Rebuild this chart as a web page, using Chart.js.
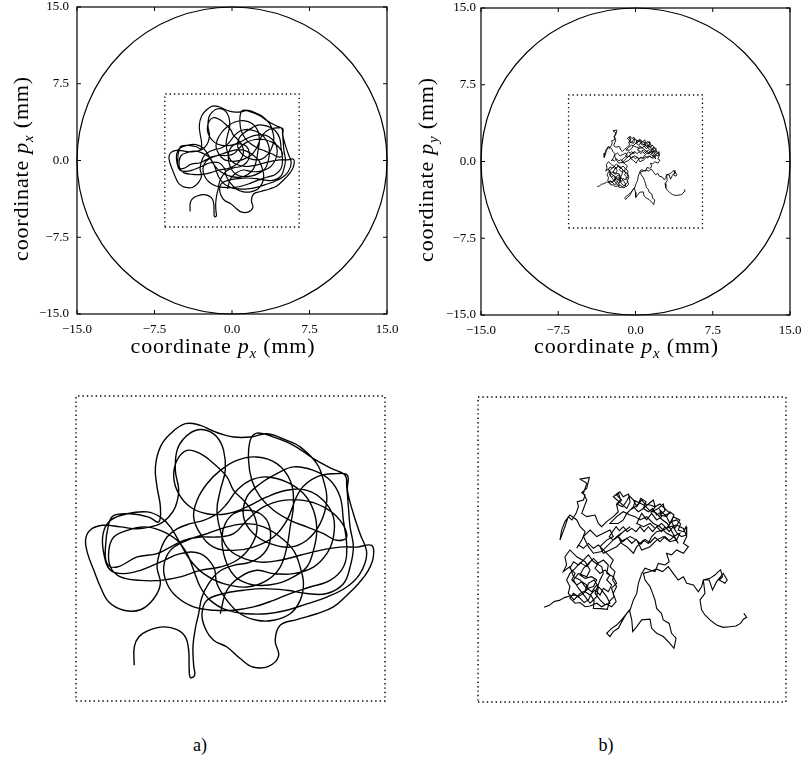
<!DOCTYPE html>
<html><head><meta charset="utf-8">
<script src="https://cdn.jsdelivr.net/npm/chart.js@4/dist/chart.umd.min.js"></script>
<style>
html,body{margin:0;padding:0;background:#fff;}
#wrap{position:relative;width:803px;height:757px;overflow:hidden;background:#fff;}
canvas{position:absolute;}
.lab{position:absolute;font-family:"Liberation Serif",serif;font-size:18px;color:#000;transform:translate(-50%,-50%);}
</style></head><body>
<div id="wrap">
<canvas id="c1" width="400" height="365" style="left:0px;top:0px"></canvas>
<canvas id="c2" width="403" height="365" style="left:400px;top:0px"></canvas>
<canvas id="c3" width="321" height="317" style="left:70px;top:390px"></canvas>
<canvas id="c4" width="320" height="317" style="left:472px;top:391px"></canvas>
<div class="lab" style="left:200px;top:745px">a)</div>
<div class="lab" style="left:606px;top:745px">b)</div>
</div>
<script>
// ---- axis / frame values (mm) ----
const tickValues = [-15, -7.5, 0, 7.5, 15];
const tickLabels = ['\u221215.0', '\u22127.5', '0.0', '7.5', '15.0'];
const fullRange = [-15, 15];
const zoomRange = [-6.5, 6.5];
const boundaryRadius = 15;
const squareX = [-6.5, 6.5, 6.5, -6.5, -6.5];
const squareY = [-6.5, -6.5, 6.5, 6.5, -6.5];

// ---- trajectory a) (smooth), mm ----
const ax = [-4.05,-4.05,-3.86,-3.44,-2.81,-2.25,-1.90,-1.76,-1.74,-1.69,-1.51,-1.55,-1.58,-1.48,-1.34,-1.20,-0.92,-0.50,0.13,0.83,
1.39,1.67,1.60,1.25,0.69,0.13,-0.22,-0.36,-0.29,-0.01,0.41,1.11,1.95,2.65,3.21,3.49,3.63,3.49,3.07,2.37,
1.53,0.83,0.27,-0.15,-0.57,-1.13,-1.69,-2.25,-2.67,-2.95,-3.09,-2.95,-3.23,-3.79,-4.49,-5.12,-5.47,-5.75,-6.01,-6.10,
-5.92,-5.40,-4.63,-3.93,-3.37,-2.95,-2.60,-2.32,-2.18,-2.32,-2.25,-1.97,-1.48,-0.99,-0.57,-0.29,-0.22,-0.43,-0.57,-0.43,
-0.15,0.41,1.25,2.09,2.93,3.77,4.61,5.31,5.94,6.01,5.80,5.38,4.89,4.33,3.63,2.79,2.09,1.88,2.02,1.60,
0.94,0.41,-0.15,-0.71,-1.06,-1.20,-0.99,-0.29,0.55,1.39,2.37,3.21,4.05,4.75,5.03,5.17,5.03,4.96,4.89,4.82,
4.26,3.49,2.65,1.81,1.11,0.83,0.76,0.90,1.25,1.81,2.51,3.21,3.91,4.47,4.89,4.61,3.91,3.07,2.23,1.39,
0.69,0.13,-0.57,-1.27,-1.97,-2.53,-3.09,-3.93,-4.77,-5.19,-5.26,-5.12,-4.91,-4.21,-3.44,-3.02,-2.95,-3.09,-3.16,-2.95,
-2.53,-1.90,-1.27,-0.78,-0.43,0.13,0.83,1.53,2.37,2.93,3.63,3.91,4.05,3.77,3.21,2.51,1.67,0.97,0.55,0.69,
1.25,1.95,2.65,3.49,4.19,4.61,4.75,4.89,4.75,4.19,3.35,2.51,1.81,0.97,0.13,-0.71,-1.55,-2.25,-2.67,-2.81,
-2.53,-1.83,-0.99,-0.15,0.69,1.39,2.09,2.65,2.93,3.07,2.93,2.51,1.81,1.11,0.41,-0.15,-0.57,-0.71,-1.27,-2.11,
-2.95,-3.79,-4.49,-5.05,-5.33,-5.36,-5.05,-4.35,-3.51,-2.95,-2.53,-2.11,-1.69,-1.13,-0.29,0.69,1.53,2.09,2.37,2.51,
2.65,2.51,1.95,1.11,0.27,-0.43,-0.99,-1.41,-1.55,-1.27,-0.71,0.13,0.97,1.81,2.37,2.93,3.63,4.47,4.92,4.92,
5.17,5.45,5.73,5.45,4.89,4.05,3.21,2.37,1.53,0.69,-0.15,-0.85,-1.27,-1.55,-1.83,-2.25,-2.95,-3.65,-4.35,-4.91,
-5.12,-5.05,-4.63,-3.79,-2.95,-2.11,-1.27,-0.43,0.27,0.83,1.11,0.97,0.55,0.13,-0.15,-0.71,-1.27,-1.83,-2.25,-2.39,
-2.18,-1.69,-0.99,-0.15,0.69,1.53,2.37,3.21,3.91,4.33,4.33,4.05,3.49,2.65,1.81,1.11,0.41,-0.15,-0.43];
const ay = [-4.98,-4.20,-3.77,-3.49,-3.34,-3.46,-3.77,-4.34,-5.05,-5.50,-5.40,-4.98,-4.20,-3.41,-2.78,-2.07,-1.50,-1.00,-0.72,-0.58,
-0.22,0.35,1.06,1.48,1.63,1.48,1.06,0.49,-0.22,-0.93,-1.36,-1.57,-1.50,-1.21,-0.79,-0.08,0.77,1.63,2.34,2.83,
3.05,2.90,2.48,1.91,1.48,1.20,1.06,0.84,0.49,-0.08,-0.79,-1.50,-2.14,-2.61,-2.63,-2.28,-1.64,-0.93,-0.22,0.35,
0.77,0.99,0.92,0.84,0.92,1.06,1.34,1.77,2.48,3.33,4.18,4.68,5.03,5.03,4.75,4.18,3.33,2.48,1.63,0.77,
0.06,-0.36,-0.58,-0.50,-0.29,-0.08,0.06,0.06,0.13,-0.36,-0.93,-1.50,-2.00,-2.49,-2.78,-3.03,-3.27,-3.91,-4.59,-5.02,
-5.05,-4.69,-4.20,-3.91,-3.41,-2.78,-2.21,-1.92,-1.78,-1.71,-1.78,-1.92,-1.92,-1.50,-0.79,0.06,0.92,1.77,2.62,3.12,
3.40,3.83,4.40,4.75,4.92,4.61,3.76,2.90,2.20,1.63,1.20,0.92,0.63,0.35,0.49,1.20,1.77,2.05,2.05,1.77,
1.20,0.63,0.49,0.49,0.35,0.06,-0.22,-0.36,-0.79,-0.65,0.06,1.06,1.41,1.48,1.34,1.13,1.77,2.62,3.47,4.33,
4.89,5.32,5.25,5.03,4.89,4.75,4.75,4.89,4.61,4.33,3.62,2.91,2.05,1.06,0.35,0.06,0.21,0.63,1.34,2.20,
2.76,3.19,3.48,3.33,2.91,2.20,1.20,0.06,-0.79,-1.36,-1.64,-1.92,-2.21,-2.49,-2.63,-2.63,-2.49,-2.07,-1.50,-0.79,
-0.08,0.35,0.63,0.92,1.06,0.92,0.49,-0.08,-0.79,-1.50,-2.21,-2.78,-3.06,-3.06,-2.78,-2.21,-1.50,-0.79,-0.22,-0.22,
-0.58,-0.93,-1.07,-0.93,-0.22,0.63,1.20,1.48,1.56,1.34,0.92,0.21,-0.50,-1.07,-1.50,-1.64,-1.36,-0.79,0.06,0.92,
1.91,2.90,3.62,3.90,3.76,3.33,2.76,2.05,1.34,0.63,0.06,-0.08,0.06,0.49,1.20,2.48,3.05,3.19,3.12,2.48,
1.48,0.63,-0.22,-1.07,-1.64,-2.07,-2.36,-2.63,-2.78,-2.78,-2.63,-2.21,-1.64,-0.93,-0.22,0.35,0.77,0.92,0.77,0.49,
-0.08,-0.79,-1.21,-1.36,-1.36,-1.21,-0.93,-0.79,-0.50,0.06,0.77,1.48,2.05,2.48,3.05,3.62,4.04,4.18,3.76,3.05,
2.34,1.77,1.48,1.48,1.77,2.20,2.48,2.48,2.05,1.34,0.49,-0.22,-0.79,-1.07,-1.07,-0.93,-1.21,-1.78,-2.78];

// ---- trajectory b) (jagged), mm ----
const bx = [-3.71,-3.49,-3.29,-3.07,-2.83,-2.62,-2.40,-2.19,-2.02,-1.84,-1.74,-1.60,-1.63,-1.32,-1.04,-0.96,-0.76,-0.86,-0.65,-0.79,
-1.07,-1.00,-1.21,-1.49,-1.70,-1.91,-2.19,-2.40,-2.62,-2.76,-2.62,-2.69,-2.45,-2.19,-1.91,-1.84,-1.60,-1.42,-1.49,-1.77,
-1.98,-2.26,-2.47,-2.26,-1.91,-1.77,-1.98,-2.33,-2.62,-2.83,-2.76,-2.90,-2.62,-2.47,-2.19,-1.98,-1.70,-1.49,-1.28,-1.07,
-0.93,-1.14,-1.35,-1.56,-1.35,-1.21,-1.28,-1.63,-1.84,
-2.05,-2.26,-2.47,-2.62,-2.40,-2.54,-2.33,-2.12,-1.91,-1.98,-1.77,-1.56,-1.35,-1.21,-1.00,-0.86,-1.07,-0.93,-1.14,-1.35,
-1.56,-1.42,-1.63,-1.84,-2.05,-2.19,-1.98,-1.70,-1.49,-1.63,-1.84,-2.05,-2.26,-2.47,-2.62,-2.40,-2.19,-1.98,-1.77,-1.49,
-1.28,-1.07,-0.86,-0.67,-0.79,-0.65,-0.82,-0.72,-0.93,-0.79,-1.00,-1.21,-1.42,-1.63,-1.84,-2.05,-2.26,
-2.33,-2.12,-1.98,-2.19,-2.33,-2.62,-2.83,-2.97,-3.04,-2.83,-2.69,-2.54,-2.36,-2.26,-2.31,-2.05,-1.98,-2.12,-1.91,-1.80,
-2.19,-1.91,-2.05,-1.91,-2.12,-1.91,-1.56,-1.42,-1.28,-1.07,-0.79,-0.58,-0.65,-0.44,-0.65,-0.51,-0.37,-0.15,-0.08,-0.22,
-0.79,-0.58,-0.48,-0.65,-0.39,-0.22,-0.11,0.13,0.03,0.27,0.37,0.59,0.48,0.73,0.90,0.98,0.83,1.11,1.32,1.39,
1.18,1.46,1.60,1.77,1.67,1.88,2.05,1.95,2.17,2.28,2.31,2.09,1.88,1.74,1.57,1.39,1.25,1.04,0.87,0.69,
0.51,0.34,0.17,-0.01,-0.20,-0.37,-0.53,-0.67,-0.82,-0.96,-0.79,-0.58,-0.39,-0.22,-0.01,0.17,0.37,0.55,0.76,0.97,
1.18,1.39,1.57,1.77,1.95,1.74,1.49,1.25,1.01,0.76,0.51,0.27,
0.06,0.20,0.41,0.55,0.76,0.97,1.18,1.46,1.60,1.39,1.18,1.25,1.04,0.83,0.62,0.41,0.20,
0.48,0.76,0.97,1.25,1.46,1.67,1.81,2.02,1.74,1.60,1.46,1.25,1.04,0.87,0.69,0.48,0.27,0.06,-0.22,-0.37,
-0.58,-0.93,-0.65,-0.37,-0.08,0.13,0.34,0.62,0.90,1.18,1.46,1.74,2.02,1.88,1.60,1.32,1.04,0.76,0.41,0.20,
-0.08,-0.37,-0.65,-0.93,-1.21,-1.35,-1.07,-0.79,-0.93,-1.21,-1.49,-1.77,-2.05,-1.84,-1.63,-1.28,
-0.65,-0.08,-0.37,-0.58,-0.44,-0.22,0.06,0.20,0.48,0.69,0.83,1.04,1.32,1.60,1.88,2.17,2.31,2.17,2.38,2.17,
1.88,1.67,1.46,1.57,1.39,1.11,0.97,0.76,0.55,0.41,0.27,0.20,0.06,-0.08,-0.22,-0.44,-0.65,-0.86,-1.07,-0.93,
-0.79,-0.58,-0.39,-0.22,-0.11,-0.01,0.03,0.20,0.41,0.76,0.83,1.04,1.32,1.60,1.77,1.86,1.67,1.57,1.32,1.24,
1.04,0.97,0.87,0.76,0.55,0.48,0.76,1.04,1.29,1.53,1.74,1.95,2.17,2.31,2.59,2.80,2.94,3.01,3.29,3.50,
3.64,3.74,3.82,3.68,3.92,4.02,3.85,3.57,3.40,3.26,3.01,3.08,2.87,2.94,3.08,3.29,3.57,3.85,4.13,4.39,
4.58,4.70,4.84,4.72];
const by = [-2.46,-2.38,-2.22,-2.17,-2.04,-1.98,-1.94,-2.08,-2.26,-2.15,-1.94,-2.19,-2.51,-2.52,-2.55,-2.22,-2.01,-1.65,-1.44,-1.16,
-1.02,-0.66,-0.45,-0.62,-0.45,-0.73,-0.56,-0.80,-1.02,-1.30,-1.58,-1.87,-2.15,-1.87,-1.73,-1.44,-1.30,-1.58,-2.01,-2.29,
-2.01,-1.65,-1.30,-1.02,-1.16,-0.87,-0.52,-0.31,-0.02,-0.31,-0.66,-0.94,-0.73,-1.16,-1.30,-1.58,-1.80,-1.51,-1.73,-2.01,
-2.29,-2.36,-2.15,-1.87,-1.30,-1.02,-0.73,-0.52,-0.23,
-0.45,-0.66,-0.52,-0.80,-1.02,-1.30,-1.51,-1.37,-1.51,-1.80,-1.94,-1.73,-1.94,-1.65,-1.80,-1.51,-1.30,-1.09,-0.87,-1.02,
-0.80,-0.59,-0.38,-0.59,-0.80,-1.09,-1.23,-1.16,-1.30,-1.58,-1.65,-1.87,-2.01,-1.87,-2.08,-2.29,-2.26,-2.44,-2.41,-2.29,
-2.44,-2.32,-2.44,-2.22,-1.87,-1.58,-1.30,-0.94,-0.73,-0.45,-0.23,-0.02,0.19,0.05,0.26,0.05,0.19,
0.05,0.40,0.76,0.97,1.26,1.47,1.19,0.83,0.40,0.97,1.40,1.26,1.54,1.82,2.04,2.11,2.32,2.42,2.61,3.07,
3.00,2.82,2.39,2.11,1.54,1.40,1.47,1.11,0.97,1.19,1.40,1.61,1.90,2.11,2.32,2.46,2.25,2.36,2.04,1.75,
2.25,2.42,2.11,1.94,1.82,2.08,2.28,2.04,1.75,1.94,2.18,2.04,1.75,1.97,2.11,1.82,1.61,1.75,1.94,1.65,
1.47,1.40,1.61,1.47,1.19,1.26,1.09,0.83,0.76,0.97,0.62,0.55,0.72,0.97,0.76,0.97,0.76,0.97,0.76,0.97,
0.76,0.97,0.76,0.90,0.76,0.97,0.80,0.97,0.76,0.55,0.40,0.55,0.33,0.48,0.26,0.43,0.23,0.43,0.29,0.52,
0.33,0.55,0.38,0.55,0.26,0.66,1.11,1.29,1.57,1.65,1.90,2.00,
2.11,1.82,2.11,1.94,1.90,1.82,1.94,1.68,1.54,1.47,1.68,1.40,1.26,1.54,1.26,1.54,1.11,
0.97,1.11,0.90,1.11,0.90,1.19,0.90,1.26,1.40,1.11,1.40,1.61,1.47,1.75,1.61,1.75,1.61,1.82,1.54,1.26,
1.11,1.11,1.40,1.61,1.47,1.40,1.26,1.40,1.11,0.97,0.69,0.55,0.69,0.40,0.33,0.55,0.40,0.12,-0.02,0.40,
0.55,0.40,0.12,-0.02,-0.16,0.12,0.40,0.55,0.83,0.69,0.55,0.83,0.55,0.12,-0.16,-0.09,
0.55,0.97,0.76,0.55,0.26,0.12,-0.16,0.12,0.40,0.26,0.55,0.76,0.83,0.97,1.04,0.90,0.55,0.26,0.12,-0.16,
-0.02,-0.23,-0.16,-0.52,-0.66,-0.59,-0.94,-0.87,-0.80,-1.02,-1.44,-1.87,-2.15,-2.58,-2.72,-3.00,-3.22,-3.36,-3.57,-3.71,
-3.50,-3.36,-3.00,-2.72,-2.58,-3.00,-3.50,-3.29,-3.00,-2.97,-3.36,-3.57,-3.71,-4.00,-4.21,-3.78,-3.57,-3.15,-3.00,-2.72,
-2.51,-2.15,-1.87,-1.58,-1.30,-1.02,-0.94,-0.84,-0.94,-0.73,-1.02,-1.30,-1.16,-1.44,-1.51,-1.80,-1.58,-1.30,-1.23,-1.09,
-0.94,-0.87,-1.16,-1.30,-1.44,-1.30,-1.02,-1.37,-1.73,-1.30,-1.30,-1.87,-2.15,-2.58,-2.79,-3.00,-3.22,-3.32,-3.29,-3.26,
-3.15,-2.97,-2.89,-2.72];

function pts(xs, ys) { return xs.map((x, i) => ({ x: x, y: ys[i] })); }

function drawTitle(ctx, sub, cx, cy, rot) {
  const parts = [
    { t: 'coordinate ', f: '22px "Liberation Serif"', dy: 0 },
    { t: 'p', f: 'italic 22px "Liberation Serif"', dy: 0 },
    { t: sub, f: 'italic 15px "Liberation Serif"', dy: 5 },
    { t: ' (mm)', f: '22px "Liberation Serif"', dy: 0 }
  ];
  ctx.save();
  try { ctx.letterSpacing = '0.8px'; } catch (e) {}
  let w = 0;
  parts.forEach(p => { ctx.font = p.f; p.w = ctx.measureText(p.t).width; w += p.w; });
  ctx.translate(cx, cy);
  if (rot) ctx.rotate(-Math.PI / 2);
  ctx.textBaseline = 'alphabetic';
  ctx.textAlign = 'left';
  ctx.fillStyle = '#000';
  let xx = -w / 2;
  parts.forEach(p => { ctx.font = p.f; ctx.fillText(p.t, xx, p.dy); xx += p.w; });
  ctx.restore();
}

const decor = {
  id: 'decor',
  beforeDatasetsDraw(chart, args, o) {
    if (!o.circle) return;
    const ctx = chart.ctx, x = chart.scales.x, y = chart.scales.y;
    const cx = x.getPixelForValue(0), cy = y.getPixelForValue(0);
    const rx = x.getPixelForValue(o.circle) - cx, ry = cy - y.getPixelForValue(o.circle);
    ctx.save();
    ctx.beginPath();
    ctx.ellipse(cx, cy, rx, ry, 0, 0, Math.PI * 2);
    ctx.lineWidth = 1.2; ctx.strokeStyle = '#000'; ctx.stroke();
    ctx.restore();
  },
  afterDraw(chart, args, o) {
    if (!o.frame) return;
    const ctx = chart.ctx, a = chart.chartArea, x = chart.scales.x, y = chart.scales.y;
    ctx.save();
    ctx.strokeStyle = '#000'; ctx.lineWidth = 1.2;
    ctx.strokeRect(a.left, a.top, a.right - a.left, a.bottom - a.top);
    ctx.lineWidth = 1;
    ctx.beginPath();
    tickValues.forEach(v => {
      const px = x.getPixelForValue(v), py = y.getPixelForValue(v);
      ctx.moveTo(px, a.bottom); ctx.lineTo(px, a.bottom - 4);
      ctx.moveTo(px, a.top); ctx.lineTo(px, a.top + 4);
      ctx.moveTo(a.left, py); ctx.lineTo(a.left + 4, py);
      ctx.moveTo(a.right, py); ctx.lineTo(a.right - 4, py);
    });
    ctx.stroke();
    ctx.restore();
    drawTitle(ctx, 'x', (a.left + a.right) / 2 + o.xTitleDx, o.xTitleY, false);
    drawTitle(ctx, o.ySub, o.yTitleX, (a.top + a.bottom) / 2 + o.yTitleDy, true);
  }
};

const tickFont = { family: '"Liberation Serif", serif', size: 13 };

function topChart(id, xs, ys, tension, lw, cfg) {
  return new Chart(document.getElementById(id), {
    type: 'scatter',
    data: { datasets: [
      { data: pts(squareX, squareY), showLine: true, borderColor: '#000', borderWidth: 1.3, borderDash: [1.3, 3], pointRadius: 0, tension: 0 },
      { data: pts(xs, ys), showLine: true, borderColor: '#000', borderWidth: lw, pointRadius: 0, tension: tension }
    ] },
    options: {
      responsive: false, animation: false, events: [],
      layout: { padding: { top: cfg.padTop, right: cfg.padRight, left: 0, bottom: 0 } },
      plugins: { legend: { display: false }, tooltip: { enabled: false },
        decor: { frame: true, circle: boundaryRadius, ySub: cfg.ySub, xTitleDx: cfg.xTitleDx, xTitleY: 353, yTitleX: cfg.yTitleX, yTitleDy: 8 } },
      scales: {
        x: { type: 'linear', min: fullRange[0], max: fullRange[1],
          afterBuildTicks: s => { s.ticks = tickValues.map(v => ({ value: v })); },
          afterFit: s => { s.height = cfg.xH; s.paddingLeft = 0; s.paddingRight = 0; },
          ticks: { callback: (v, i) => tickLabels[i], font: tickFont, color: '#000', padding: 8, maxRotation: 0, autoSkip: false },
          grid: { display: false, drawTicks: false }, border: { display: false } },
        y: { type: 'linear', min: fullRange[0], max: fullRange[1],
          afterBuildTicks: s => { s.ticks = tickValues.map(v => ({ value: v })); },
          afterFit: s => { s.width = cfg.yW; s.paddingTop = 0; s.paddingBottom = 0; },
          ticks: { callback: (v, i) => tickLabels[i], font: tickFont, color: '#000', padding: cfg.yPad, autoSkip: false },
          grid: { display: false, drawTicks: false }, border: { display: false } }
      }
    },
    plugins: [decor]
  });
}

function bottomChart(id, xs, ys, tension, lw) {
  return new Chart(document.getElementById(id), {
    type: 'scatter',
    data: { datasets: [
      { data: pts(squareX, squareY), showLine: true, borderColor: '#000', borderWidth: 1.4, borderDash: [1.4, 3], pointRadius: 0, tension: 0, clip: false },
      { data: pts(xs, ys), showLine: true, borderColor: '#000', borderWidth: lw, pointRadius: 0, tension: tension }
    ] },
    options: {
      responsive: false, animation: false, events: [],
      layout: { padding: 6 },
      plugins: { legend: { display: false }, tooltip: { enabled: false } },
      scales: {
        x: { type: 'linear', min: zoomRange[0], max: zoomRange[1], display: false },
        y: { type: 'linear', min: zoomRange[0], max: zoomRange[1], display: false }
      }
    }
  });
}

topChart('c1', ax, ay, 0.4, 1.2, { padTop: 7, padRight: 13, xH: 51, yW: 77, yPad: 8, ySub: 'x', yTitleX: 28, xTitleDx: -9 });
topChart('c2', bx, by, 0, 0.9, { padTop: 8, padRight: 13, xH: 50, yW: 81, yPad: 5, ySub: 'y', yTitleX: 33, xTitleDx: -9 });
bottomChart('c3', ax, ay, 0.4, 1.4);
bottomChart('c4', bx, by, 0, 1.1);
</script>
</body></html>
